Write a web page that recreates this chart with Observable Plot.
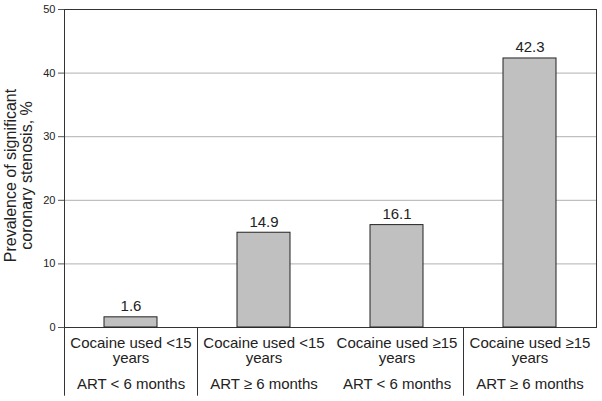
<!DOCTYPE html>
<html><head><meta charset="utf-8">
<script src="https://cdn.jsdelivr.net/npm/d3@7"></script>
<script src="https://cdn.jsdelivr.net/npm/@observablehq/plot@0.6"></script>
<style>body{margin:0;background:#fff} svg{display:block}</style>
</head><body><div id="chart"></div>
<script>
const groups = ["G1", "G2", "G3", "G4"];
const cocaineLabels = ["Cocaine used <15\nyears", "Cocaine used <15\nyears", "Cocaine used ≥15\nyears", "Cocaine used ≥15\nyears"];
const artLabels = ["ART < 6 months", "ART ≥ 6 months", "ART < 6 months", "ART ≥ 6 months"];
const prevalence = [1.6, 14.9, 16.1, 42.3];
const valueLabels = ["1.6", "14.9", "16.1", "42.3"];
const yTicks = [0, 10, 20, 30, 40, 50];
const gridTicks = [10, 20, 30, 40];
const separatorsBefore = ["G1", "G2", "G4"];
const yLabel = "Prevalence of significant\ncoronary stenosis, %";

const data = groups.map((g, i) => ({group: g, value: prevalence[i], label: valueLabels[i]}));

const W = 602, H = 401, ML = 64, MR = 6, MT = 9, MB = 74;
const step = (W - ML - MR) / groups.length;
const sepBottom = -10.8;

const chart = Plot.plot({
  width: W, height: H,
  marginLeft: ML, marginRight: MR, marginTop: MT, marginBottom: MB,
  style: {fontFamily: "'Liberation Sans', Arial, sans-serif", color: "#222", background: "#fff"},
  x: {domain: groups, paddingInner: 0.6, paddingOuter: 0.3, axis: null},
  y: {domain: [0, 50], axis: null},
  marks: [
    Plot.gridY(gridTicks, {stroke: "#b0b0b0", strokeOpacity: 1}),
    Plot.frame({stroke: "#333", strokeWidth: 1}),
    Plot.barY(data, {x: "group", y: "value", fill: "#c0c0c0", stroke: "#222", strokeWidth: 1}),
    Plot.text(data, {x: "group", y: "value", text: "label", dy: -6, lineAnchor: "bottom", fontSize: 15, fill: "#222"}),
    Plot.ruleX(separatorsBefore, {x: d => d, y1: 0, y2: sepBottom, dx: -step / 2, stroke: "#333"}),
    Plot.axisY(yTicks, {tickSize: 6, tickPadding: 3, fontSize: 11, label: null, stroke: "#555", fill: "#222"}),
    Plot.axisX({tickSize: 0, tickPadding: 9, fontSize: 15, lineHeight: 1.05, label: null, fill: "#222",
      tickFormat: g => cocaineLabels[groups.indexOf(g)]}),
    Plot.axisX({tickSize: 0, tickPadding: 51, fontSize: 15, label: null, fill: "#222",
      tickFormat: g => artLabels[groups.indexOf(g)]}),
    Plot.text([yLabel], {frameAnchor: "left", textAnchor: "middle", rotate: -90, dx: -46, dy: 7, fontSize: 16, lineHeight: 1.0, text: d => d, fill: "#222"})
  ]
});
document.getElementById("chart").appendChild(chart);
</script>
</body></html>
